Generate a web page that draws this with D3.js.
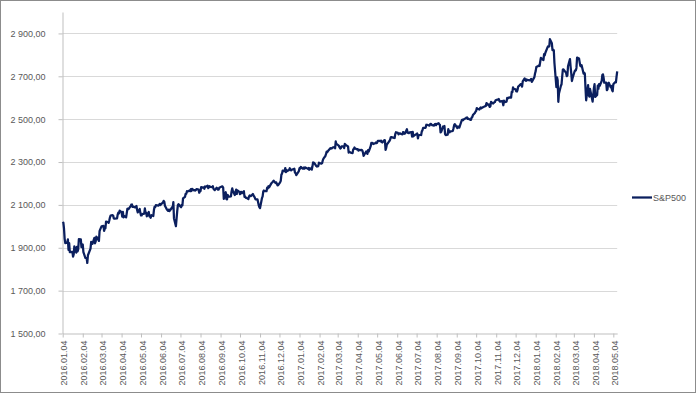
<!DOCTYPE html>
<html>
<head>
<meta charset="utf-8">
<script src="https://cdn.jsdelivr.net/npm/d3@7"></script>
<style>
  body { margin: 0; background: #fff; }
  text { font-family: "Liberation Sans", Arial, sans-serif; }
</style>
</head>
<body>
<div id="chart"></div>
<script>
// daily closes, grouped by month: [day, close]
const months = ["2016-01","2016-02","2016-03","2016-04","2016-05","2016-06","2016-07","2016-08","2016-09","2016-10","2016-11","2016-12",
  "2017-01","2017-02","2017-03","2017-04","2017-05","2017-06","2017-07","2017-08","2017-09","2017-10","2017-11","2017-12",
  "2018-01","2018-02","2018-03","2018-04","2018-05"];

const closes = [
  [[4,2013],[5,2017],[6,1990],[7,1943],[8,1922],[11,1924],[12,1939],[13,1890],[14,1922],[15,1880],[19,1881],[20,1859],[21,1869],[22,1907],[25,1877],[26,1904],[27,1883],[28,1893],[29,1940]],
  [[1,1939],[2,1903],[3,1913],[4,1915],[5,1880],[8,1853],[9,1852],[10,1852],[11,1829],[12,1865],[16,1896],[17,1927],[18,1918],[19,1918],[22,1946],[23,1921],[24,1930],[25,1952],[26,1948],[29,1932]],
  [[1,1978],[2,1986],[3,1993],[4,2000],[7,2002],[8,1979],[9,1989],[10,1990],[11,2022],[14,2020],[15,2016],[16,2027],[17,2041],[18,2050],[21,2052],[22,2050],[23,2037],[24,2036],[28,2037],[29,2055],[30,2064],[31,2060]],
  [[1,2073],[4,2066],[5,2045],[6,2067],[7,2042],[8,2048],[11,2042],[12,2062],[13,2082],[14,2083],[15,2081],[18,2094],[19,2101],[20,2102],[21,2091],[22,2092],[25,2088],[26,2092],[27,2095],[28,2076],[29,2065]],
  [[2,2081],[3,2063],[4,2051],[5,2051],[6,2057],[9,2059],[10,2084],[11,2064],[12,2064],[13,2047],[16,2067],[17,2047],[18,2048],[19,2040],[20,2052],[23,2048],[24,2076],[25,2091],[26,2090],[27,2099],[31,2097]],
  [[1,2099],[2,2105],[3,2099],[6,2109],[7,2112],[8,2119],[9,2115],[10,2096],[13,2079],[14,2075],[15,2072],[16,2078],[17,2071],[20,2083],[21,2089],[22,2085],[23,2113],[24,2037],[27,2001],[28,2036],[29,2071],[30,2099]],
  [[1,2103],[5,2089],[6,2100],[7,2098],[8,2130],[11,2137],[12,2152],[13,2152],[14,2164],[15,2162],[18,2167],[19,2164],[20,2173],[21,2165],[22,2175],[25,2168],[26,2169],[27,2167],[28,2170],[29,2174]],
  [[1,2171],[2,2157],[3,2164],[4,2164],[5,2183],[8,2181],[9,2182],[10,2175],[11,2186],[12,2184],[15,2190],[16,2178],[17,2182],[18,2187],[19,2184],[22,2183],[23,2187],[24,2175],[25,2172],[26,2169],[29,2180],[30,2176],[31,2171]],
  [[1,2171],[2,2180],[6,2186],[7,2186],[8,2181],[9,2128],[12,2159],[13,2127],[14,2126],[15,2147],[16,2139],[19,2139],[20,2140],[21,2163],[22,2177],[23,2165],[26,2146],[27,2160],[28,2171],[29,2151],[30,2168]],
  [[3,2161],[4,2150],[5,2160],[6,2161],[7,2154],[10,2164],[11,2137],[12,2139],[13,2133],[14,2133],[17,2127],[18,2140],[19,2144],[20,2141],[21,2141],[24,2151],[25,2143],[26,2139],[27,2133],[28,2126],[31,2126]],
  [[1,2112],[2,2098],[3,2089],[4,2085],[7,2132],[8,2140],[9,2163],[10,2167],[11,2164],[14,2164],[15,2180],[16,2177],[17,2187],[18,2182],[21,2198],[22,2203],[23,2205],[25,2213],[28,2202],[29,2205],[30,2199]],
  [[1,2191],[2,2192],[5,2205],[6,2212],[7,2241],[8,2246],[9,2260],[12,2257],[13,2272],[14,2253],[15,2262],[16,2258],[19,2263],[20,2271],[21,2265],[22,2261],[23,2264],[27,2269],[28,2250],[29,2249],[30,2239]],
  [[3,2258],[4,2271],[5,2269],[6,2277],[9,2269],[10,2269],[11,2275],[12,2270],[13,2275],[17,2268],[18,2272],[19,2264],[20,2271],[23,2265],[24,2280],[25,2298],[26,2297],[27,2295],[30,2281],[31,2279]],
  [[1,2280],[2,2281],[3,2297],[6,2293],[7,2293],[8,2295],[9,2308],[10,2316],[13,2328],[14,2338],[15,2349],[16,2347],[17,2351],[21,2365],[22,2363],[23,2364],[24,2367],[27,2370],[28,2364]],
  [[1,2396],[2,2382],[3,2383],[6,2375],[7,2368],[8,2363],[9,2365],[10,2373],[13,2373],[14,2365],[15,2385],[16,2381],[17,2378],[20,2373],[21,2344],[22,2348],[23,2346],[24,2344],[27,2342],[28,2359],[29,2361],[30,2368],[31,2363]],
  [[3,2359],[4,2360],[5,2353],[6,2357],[7,2356],[10,2357],[11,2354],[12,2345],[13,2329],[17,2349],[18,2342],[19,2338],[20,2356],[21,2349],[24,2374],[25,2389],[26,2387],[27,2389],[28,2384]],
  [[1,2388],[2,2391],[3,2388],[4,2390],[5,2399],[8,2399],[9,2397],[10,2400],[11,2394],[12,2391],[15,2402],[16,2401],[17,2357],[18,2366],[19,2382],[22,2394],[23,2398],[24,2404],[25,2415],[26,2416],[30,2413],[31,2412]],
  [[1,2430],[2,2439],[5,2436],[6,2429],[7,2433],[8,2434],[9,2432],[12,2429],[13,2440],[14,2438],[15,2432],[16,2433],[19,2453],[20,2437],[21,2436],[22,2435],[23,2438],[26,2439],[27,2419],[28,2441],[29,2420],[30,2423]],
  [[3,2429],[5,2433],[6,2410],[7,2425],[10,2427],[11,2426],[12,2443],[13,2448],[14,2459],[17,2459],[18,2461],[19,2474],[20,2473],[21,2473],[24,2470],[25,2477],[26,2478],[27,2475],[28,2472],[31,2470]],
  [[1,2476],[2,2478],[3,2472],[4,2477],[7,2481],[8,2475],[9,2474],[10,2438],[11,2441],[14,2466],[15,2465],[16,2468],[17,2430],[18,2426],[21,2428],[22,2453],[23,2444],[24,2439],[25,2443],[28,2444],[29,2446],[30,2458],[31,2472]],
  [[1,2477],[5,2458],[6,2466],[7,2465],[8,2461],[11,2488],[12,2496],[13,2498],[14,2496],[15,2500],[18,2504],[19,2507],[20,2508],[21,2501],[22,2502],[25,2497],[26,2497],[27,2507],[28,2510],[29,2519]],
  [[2,2529],[3,2535],[4,2538],[5,2552],[6,2549],[9,2545],[10,2551],[11,2555],[12,2551],[13,2553],[16,2558],[17,2559],[18,2561],[19,2562],[20,2575],[23,2565],[24,2569],[25,2557],[26,2560],[27,2581],[30,2573],[31,2575]],
  [[1,2579],[2,2580],[3,2588],[6,2591],[7,2591],[8,2594],[9,2585],[10,2582],[13,2585],[14,2579],[15,2565],[16,2586],[17,2579],[20,2582],[21,2599],[22,2597],[24,2602],[27,2601],[28,2627],[29,2626],[30,2648]],
  [[1,2642],[4,2639],[5,2630],[6,2629],[7,2637],[8,2652],[11,2660],[12,2664],[13,2663],[14,2652],[15,2676],[18,2690],[19,2681],[20,2679],[21,2685],[22,2683],[26,2681],[27,2683],[28,2688],[29,2674]],
  [[2,2696],[3,2713],[4,2724],[5,2743],[8,2748],[9,2751],[10,2748],[11,2768],[12,2786],[16,2776],[17,2803],[18,2798],[19,2810],[22,2833],[23,2839],[24,2838],[25,2839],[26,2873],[29,2854],[30,2822],[31,2824]],
  [[1,2822],[2,2762],[5,2649],[6,2695],[7,2682],[8,2581],[9,2620],[12,2656],[13,2663],[14,2699],[15,2731],[16,2732],[20,2716],[21,2701],[22,2704],[23,2747],[26,2780],[27,2744],[28,2714]],
  [[1,2678],[2,2691],[5,2721],[6,2728],[7,2727],[8,2739],[9,2787],[12,2783],[13,2765],[14,2749],[15,2747],[16,2752],[19,2713],[20,2717],[21,2712],[22,2644],[23,2588],[26,2659],[27,2613],[28,2605],[29,2641]],
  [[2,2582],[3,2614],[4,2645],[5,2663],[6,2604],[9,2613],[10,2657],[11,2642],[12,2664],[13,2656],[16,2678],[17,2706],[18,2709],[19,2693],[20,2670],[23,2670],[24,2635],[25,2639],[26,2667],[27,2670],[30,2648]],
  [[1,2655],[2,2636],[3,2630],[4,2663],[7,2673],[8,2672],[9,2698],[10,2723]]
];

const yTicks = [1500, 1700, 1900, 2100, 2300, 2500, 2700, 2900];
const seriesName = "S&P500";

const width = 696, height = 393;
const parseDay = d3.timeParse("%Y-%m-%d");

let data = [];
months.forEach(function(m, i) {
  closes[i].forEach(function(p) {
    data.push({ date: parseDay(m + "-" + String(p[0]).padStart(2, "0")), value: p[1] });
  });
});

const x = d3.scaleTime()
  .domain([parseDay("2016-01-04"), parseDay("2018-05-10")])
  .range([62.7, 617.2]);
const y = d3.scaleLinear().domain([1500, 3000]).range([333.5, 12]);

// month ticks on the 4th
const xTicks = d3.timeMonth.range(parseDay("2016-01-01"), parseDay("2018-05-02"))
  .map((m) => d3.timeDay.offset(m, 3));

const svg = d3.select("#chart")
  .append("svg")
  .attr("width", width)
  .attr("height", height);

svg.append("rect")
  .attr("x", 0.5).attr("y", 0.5)
  .attr("width", width - 1).attr("height", height - 1)
  .attr("fill", "#fff")
  .attr("stroke", "#8c8c8c");

// gridlines
svg.append("g")
  .selectAll("line")
  .data(yTicks.slice(1))
  .enter()
  .append("line")
  .attr("x1", 62.5).attr("x2", 617.2)
  .attr("y1", (d) => Math.round(y(d)) + 0.5)
  .attr("y2", (d) => Math.round(y(d)) + 0.5)
  .attr("stroke", "#d9d9d9");

// y axis
const yAxis = d3.axisLeft(y)
  .tickValues(yTicks)
  .tickSizeInner(4)
  .tickSizeOuter(0)
  .tickPadding(13)
  .tickFormat((d) => d3.format(",.2f")(d).replace(",", " ").replace(".", ","));

svg.append("g")
  .attr("class", "y axis")
  .attr("transform", "translate(62.5,0)")
  .call(yAxis)
  .call((g) => g.select(".domain").attr("stroke", "#bfbfbf"))
  .call((g) => g.selectAll(".tick line").attr("stroke", "#bfbfbf"))
  .call((g) => g.selectAll("text").attr("fill", "#595959").style("font-size", "9px"));

// x axis
const xAxis = d3.axisBottom(x)
  .tickValues(xTicks)
  .tickSizeOuter(0)
  .tickSizeInner(4)
  .tickFormat(d3.timeFormat("%Y.%m.%d"));

svg.append("g")
  .attr("class", "x axis")
  .attr("transform", "translate(0,333.5)")
  .call(xAxis)
  .call((g) => g.select(".domain").attr("stroke", "#bfbfbf"))
  .call((g) => g.selectAll(".tick line").attr("stroke", "#bfbfbf"))
  .call((g) => g.selectAll("text")
    .attr("fill", "#595959")
    .style("font-size", "9px")
    .attr("text-anchor", "end")
    .attr("transform", "rotate(-90)")
    .attr("x", -7)
    .attr("y", 1)
    .attr("dy", "0.35em"));

// series line
const line = d3.line()
  .x((d) => x(d.date))
  .y((d) => y(d.value));

svg.append("path")
  .datum(data)
  .attr("d", line)
  .attr("fill", "none")
  .attr("stroke", "#0b1f5e")
  .attr("stroke-width", 2.25)
  .attr("stroke-linejoin", "round");

// legend
const gLegend = svg.append("g").attr("id", "legend");
gLegend.append("line")
  .attr("x1", 632).attr("x2", 652)
  .attr("y1", 197.5).attr("y2", 197.5)
  .attr("stroke", "#0b1f5e")
  .attr("stroke-width", 2.25);
gLegend.append("text")
  .text(seriesName)
  .attr("x", 653)
  .attr("y", 197.5)
  .attr("dy", "0.35em")
  .attr("fill", "#595959")
  .style("font-size", "9px");
</script>
</body>
</html>
